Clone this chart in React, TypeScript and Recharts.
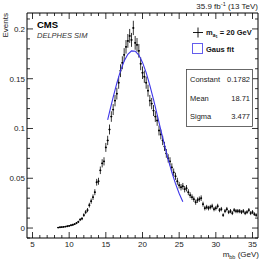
import React from 'react';
import {
  ComposedChart,
  Scatter,
  ErrorBar,
  XAxis,
  YAxis,
} from 'recharts';

// histogram: bin centres start at 8.5 GeV, 0.25 GeV wide
const BIN_START = 8.5;
const BIN_WIDTH = 0.25;

const events = [
  0.0005, 0.0008,
  0.001, 0.0012, 0.0015, 0.0018,
  0.0022, 0.0028, 0.0033, 0.004,
  0.005, 0.0062, 0.0085, 0.0095,
  0.013, 0.016, 0.018, 0.023,
  0.027, 0.031, 0.036, 0.046,
  0.047, 0.058, 0.065, 0.067,
  0.081, 0.088, 0.099, 0.112,
  0.119, 0.128, 0.135, 0.146,
  0.158, 0.166, 0.174, 0.182,
  0.188, 0.193, 0.189, 0.201,
  0.186, 0.184, 0.178, 0.165,
  0.156, 0.152, 0.146, 0.138,
  0.128, 0.125, 0.118, 0.112,
  0.108, 0.098, 0.094, 0.088,
  0.082, 0.075, 0.07, 0.067,
  0.061, 0.056, 0.052, 0.047,
  0.043, 0.041, 0.042, 0.039,
  0.04, 0.036, 0.033, 0.031,
  0.029, 0.026, 0.028, 0.029,
  0.03, 0.024, 0.02, 0.021,
  0.02, 0.021, 0.022, 0.019,
  0.02, 0.022, 0.018, 0.019,
  0.013, 0.017, 0.019, 0.016,
  0.017, 0.015, 0.018, 0.017,
  0.017, 0.017, 0.016, 0.017,
  0.015, 0.016, 0.018, 0.015,
  0.016, 0.014, 0.013,
];

const errors = [
  0.0004, 0.0005,
  0.0005, 0.0006, 0.0006, 0.0007,
  0.0008, 0.0008, 0.0009, 0.001,
  0.0011, 0.0012, 0.0015, 0.0016,
  0.0018, 0.002, 0.0021, 0.0024,
  0.0026, 0.0028, 0.003, 0.0034,
  0.0035, 0.0038, 0.0041, 0.0041,
  0.0045, 0.0047, 0.005, 0.0053,
  0.0055, 0.0057, 0.0059, 0.0061,
  0.0064, 0.0065, 0.0067, 0.0068,
  0.0069, 0.007, 0.007, 0.0072,
  0.0069, 0.0069, 0.0068, 0.0065,
  0.0063, 0.0062, 0.0061, 0.006,
  0.0057, 0.0057, 0.0055, 0.0054,
  0.0053, 0.005, 0.0049, 0.0047,
  0.0046, 0.0044, 0.0042, 0.0041,
  0.004, 0.0038, 0.0036, 0.0035,
  0.0033, 0.0032, 0.0033, 0.0032,
  0.0032, 0.003, 0.0029, 0.0028,
  0.0027, 0.0026, 0.0027, 0.0027,
  0.0028, 0.0025, 0.0023, 0.0023,
  0.0023, 0.0023, 0.0024, 0.0022,
  0.0023, 0.0024, 0.0021, 0.0022,
  0.0018, 0.0021, 0.0022, 0.002,
  0.0021, 0.002, 0.0021, 0.0021,
  0.0021, 0.0021, 0.002, 0.0021,
  0.002, 0.002, 0.0021, 0.002,
  0.002, 0.0019, 0.0018,
];

// gaussian fit curve
const fitMass = [
  15.25, 15.5, 16, 16.5, 17, 17.5, 18, 18.5, 19, 19.5, 20, 20.5, 21, 21.5,
  22, 22.5, 23, 23.5, 24, 24.5, 25, 25.5,
];
const fitValue = [
  0.1086, 0.1164, 0.1315, 0.1456, 0.1579, 0.1677, 0.1745, 0.1779, 0.1776,
  0.1737, 0.1664, 0.1561, 0.1434, 0.1292, 0.1139, 0.0984, 0.0833, 0.069,
  0.056, 0.0446, 0.0347, 0.0265,
];

const xMajor = [5, 10, 15, 20, 25, 30, 35];
const xTicks = [
  5, 6, 7, 8, 9, 10, 11, 12, 13, 14, 15, 16, 17, 18, 19, 20, 21, 22, 23, 24,
  25, 26, 27, 28, 29, 30, 31, 32, 33, 34, 35,
];
const yMajor = ['0', '0.05', '0.1', '0.15', '0.2'];
const yTicks = [
  -0.01, 0, 0.01, 0.02, 0.03, 0.04, 0.05, 0.06, 0.07, 0.08, 0.09, 0.1, 0.11,
  0.12, 0.13, 0.14, 0.15, 0.16, 0.17, 0.18, 0.19, 0.2, 0.21,
];

const statNames = ['Constant', 'Mean', 'Sigma'];
const statValues = ['0.1782', '18.71', '3.477'];

const X_DOMAIN: [number, number] = [4.25, 35.75];
const Y_DOMAIN: [number, number] = [-0.01, 0.216];

const FONT = '"Liberation Sans", Arial, Helvetica, sans-serif';
const FIT_COLOR = '#3d35e8';

const histData = events.map((v, i) => ({
  x: BIN_START + i * BIN_WIDTH,
  y: v,
  ey: errors[i],
  ex: BIN_WIDTH / 2,
}));

const fitData = fitMass.map((m, i) => ({ x: m, y: fitValue[i] }));

const isXMajor = (v: number) => xMajor.includes(Math.round(v * 100) / 100);
const yLabel = (v: number) => {
  const s = String(Math.round(v * 1000) / 1000);
  return yMajor.includes(s) ? s : null;
};

// ROOT style: ticks point into the frame
const BottomTick = ({ x, y, payload }: any) => {
  const major = isXMajor(payload.value);
  return (
    <g>
      <line x1={x} x2={x} y1={y} y2={y - (major ? 6 : 3)} stroke="#000" strokeWidth={0.8} />
      {major && (
        <text x={x} y={y + 9} fontSize={8} fill="#222" textAnchor="middle" fontFamily={FONT}>
          {payload.value}
        </text>
      )}
    </g>
  );
};
const TopTick = ({ x, y, payload }: any) => {
  const major = isXMajor(payload.value);
  return <line x1={x} x2={x} y1={y} y2={y + (major ? 6 : 3)} stroke="#000" strokeWidth={0.8} />;
};
const LeftTick = ({ x, y, payload }: any) => {
  const lab = yLabel(payload.value);
  return (
    <g>
      <line x1={x} x2={x + (lab ? 6 : 3)} y1={y} y2={y} stroke="#000" strokeWidth={0.8} />
      {lab && (
        <text x={x - 2} y={y + 3} fontSize={8} fill="#222" textAnchor="end" fontFamily={FONT}>
          {lab}
        </text>
      )}
    </g>
  );
};
const RightTick = ({ x, y, payload }: any) => {
  const lab = yLabel(payload.value);
  return <line x1={x} x2={x - (lab ? 6 : 3)} y1={y} y2={y} stroke="#000" strokeWidth={0.8} />;
};

const Dot = (props: any) => (
  <circle cx={props.cx} cy={props.cy} r={0.9} fill="#000" />
);
const NoDot = () => <g />;

export default function App() {
  return (
    <div style={{ position: 'relative', width: 267, height: 259, background: '#fff' }}>
      <style>{'body{margin:0}'}</style>
      <ComposedChart
        width={267}
        height={259}
        margin={{ top: 12, right: 8, bottom: 20, left: 26 }}
      >
        <XAxis
          xAxisId="main"
          type="number"
          dataKey="x"
          domain={X_DOMAIN}
          allowDataOverflow
          ticks={xTicks}
          interval={0}
          height={1}
          tickSize={0}
          tickMargin={0}
          tickLine={false}
          tick={BottomTick}
          stroke="#000"
        />
        <XAxis
          xAxisId="top"
          orientation="top"
          type="number"
          dataKey="x"
          domain={X_DOMAIN}
          allowDataOverflow
          ticks={xTicks}
          interval={0}
          height={1}
          tickSize={0}
          tickMargin={0}
          tickLine={false}
          tick={TopTick}
          stroke="#000"
        />
        <YAxis
          yAxisId="main"
          type="number"
          domain={Y_DOMAIN}
          allowDataOverflow
          ticks={yTicks}
          interval={0}
          width={1}
          tickSize={0}
          tickMargin={0}
          tickLine={false}
          tick={LeftTick}
          stroke="#000"
        />
        <YAxis
          yAxisId="right"
          orientation="right"
          type="number"
          domain={Y_DOMAIN}
          allowDataOverflow
          ticks={yTicks}
          interval={0}
          width={1}
          tickSize={0}
          tickMargin={0}
          tickLine={false}
          tick={RightTick}
          stroke="#000"
        />

        <Scatter
          xAxisId="main"
          yAxisId="main"
          data={histData}
          dataKey="y"
          shape={Dot}
          isAnimationActive={false}
        >
          <ErrorBar dataKey="ey" direction="y" width={0} stroke="#000" strokeWidth={0.8} />
          <ErrorBar dataKey="ex" direction="x" width={0} stroke="#000" strokeWidth={0.8} />
        </Scatter>
        <Scatter
          xAxisId="top"
          yAxisId="right"
          data={fitData}
          dataKey="y"
          shape={NoDot}
          line={{ stroke: FIT_COLOR, strokeWidth: 1.1 }}
          lineType="joint"
          isAnimationActive={false}
        />
      </ComposedChart>

      <svg
        width={267}
        height={259}
        style={{ position: 'absolute', left: 0, top: 0, pointerEvents: 'none' }}
        fontFamily={FONT}
      >
        <text x={8} y={13} fontSize={8} fill="#222" textAnchor="end" transform="rotate(-90 8 13)">
          Events
        </text>
        <text x={258} y={9} fontSize={8} fill="#222" textAnchor="end">
          35.9 fb<tspan dy={-3} fontSize={5.5}>-1</tspan>
          <tspan dy={3}> (13 TeV)</tspan>
        </text>
        <text x={259} y={256.5} fontSize={8} fill="#222" textAnchor="end">
          m<tspan dy={2} fontSize={5.5}>bb</tspan>
          <tspan dy={-2}> (GeV)</tspan>
        </text>

        <text x={37} y={28} fontSize={9.5} fontWeight="bold" fill="#000">CMS</text>
        <text x={37} y={37.5} fontSize={7.5} fontStyle="italic" fill="#333">DELPHES SIM</text>

        {/* legend */}
        <line x1={193} x2={203} y1={32.5} y2={32.5} stroke="#000" strokeWidth={0.9} />
        <line x1={198} x2={198} y1={27.5} y2={37.5} stroke="#000" strokeWidth={0.9} />
        <text x={206} y={35} fontSize={7.5} fontWeight="bold" fill="#111">
          m<tspan dy={2} fontSize={5}>a</tspan>
          <tspan dy={1} fontSize={4}>1</tspan>
          <tspan dy={-3} fontSize={7.5}> = 20 GeV</tspan>
        </text>
        <rect x={192.5} y={43.5} width={10} height={10} fill="none" stroke={FIT_COLOR} strokeWidth={1} opacity={0.8} />
        <text x={206} y={51.5} fontSize={7.5} fontWeight="bold" fill="#111">Gaus fit</text>

        {/* fit statistics box */}
        <rect x={186.5} y={69.5} width={66} height={57} fill="#fff" stroke="#444" strokeWidth={0.8} />
        {statNames.map((n, i) => (
          <g key={n}>
            <text x={190} y={82 + i * 18.5} fontSize={7.5} fill="#222">{n}</text>
            <text x={250} y={82 + i * 18.5} fontSize={7.5} fill="#222" textAnchor="end">
              {statValues[i]}
            </text>
          </g>
        ))}
      </svg>
    </div>
  );
}
